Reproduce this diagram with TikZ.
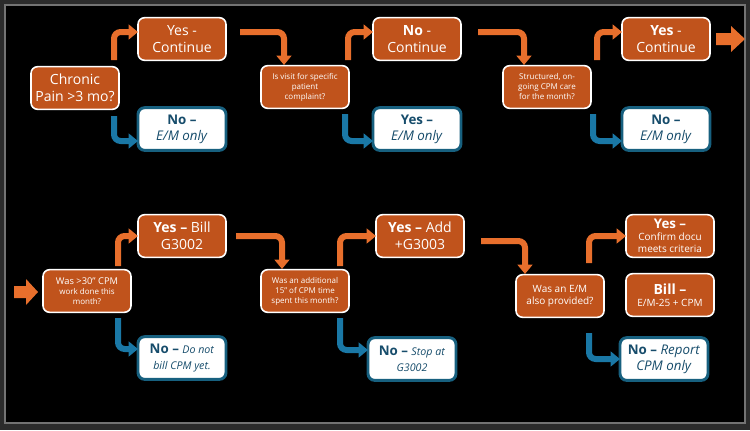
\documentclass[tikz,border=0pt]{standalone}
\usepackage{fontspec}
\setmainfont{Open Sans}
\usetikzlibrary{arrows.meta}
\definecolor{boxor}{HTML}{C0531C}
\definecolor{aror}{HTML}{E86F2C}
\definecolor{arbl}{HTML}{1A78A6}
\definecolor{nobd}{HTML}{17607F}
\definecolor{notx}{HTML}{164C6B}
\begin{document}
\begin{tikzpicture}[x=0.75pt,y=-0.75pt,
  base/.style={rounded corners=5pt,align=center,inner sep=0pt,minimum width=66pt,minimum height=32pt},
  org/.style={base,fill=boxor,draw=white,line width=1.2pt,text=white},
  no/.style={base,fill=white,draw=nobd,line width=2.2pt,text=notx,font=\fontsize{10}{12}\selectfont},
  big/.style={font=\fontsize{10.5}{12.5}\selectfont},
  sm/.style={font=\fontsize{6}{7.5}\selectfont},
  md/.style={font=\fontsize{7.5}{9}\selectfont},
  oa/.style={draw=aror,line width=4.5pt,rounded corners=5pt,-{Triangle[length=7pt,width=11pt]}},
  ba/.style={draw=arbl,line width=4.5pt,rounded corners=5pt,-{Triangle[length=7pt,width=11pt]}}]
\fill[black!83] (0,0) rectangle (750,430);
\fill[black] (5,5) rectangle (745,423);
\draw[black!55,line width=0.8pt] (5,5) rectangle (745,423);
% row 1
\node[org,big] (q1) at (75,88) {Chronic\\Pain >3 mo?};
\node[org,big] (y1) at (182,39) {Yes -\\Continue};
\node[no] (n1) at (182,129) {\textbf{No –}\\\textit{E/M only}};
\node[org,sm] (q2) at (305,87) {Is visit for specific\\patient\\complaint?};
\node[org,big] (y2) at (417,39) {\textbf{No} -\\Continue};
\node[no] (n2) at (417,129) {\textbf{Yes –}\\\textit{E/M only}};
\node[org,sm] (q3) at (547,87) {Structured, on-\\going CPM care\\for the month?};
\node[org,big] (y3) at (666,39) {\textbf{Yes} -\\Continue};
\node[no] (n3) at (666,129) {\textbf{No –}\\\textit{E/M only}};
\fill[aror] (716,33) -- (731,33) -- (731,26) -- (745,39) -- (731,52) -- (731,45) -- (716,45) -- cycle;
\coordinate (c1) at (114,60); \coordinate (c2) at (114,116);
\draw[oa] (c1) -- (114,32) -- (138,32);
\draw[ba] (c2) -- (114,141) -- (138,141);
\coordinate (c3) at (240,32);
\draw[oa] (c3) -- (284,32) -- (284,65);
\coordinate (c4) at (348,60); \coordinate (c5) at (345,114);
\draw[oa] (c4) -- (348,32) -- (373,32);
\draw[ba] (c5) -- (345,141) -- (373,141);
\coordinate (c6) at (478,32);
\draw[oa] (c6) -- (524,32) -- (524,65);
\coordinate (c7) at (597,60); \coordinate (c8) at (593,114);
\draw[oa] (c7) -- (597,32) -- (622,32);
\draw[ba] (c8) -- (593,141) -- (622,141);
% row 2
\fill[aror] (14,286) -- (26,286) -- (26,279) -- (38,292) -- (26,305) -- (26,298) -- (14,298) -- cycle;
\node[org,sm] (q4) at (87,291) {\fontsize{7}{8.5}\selectfont Was >30” CPM\\work done this\\month?};
\node[org,big] (y4) at (182,236) {\textbf{Yes –} Bill\\G3002};
\node[no] (n4) at (182,358) {\textbf{No –} \textit{\fontsize{8}{12}\selectfont Do not}\\\textit{\fontsize{8}{12}\selectfont bill CPM yet.}};
\node[org,sm] (q5) at (305,291) {Was an additional\\15” of CPM time\\spent this month?};
\node[org,big] (y5) at (420,236) {\textbf{Yes –} Add\\+G3003};
\node[no] (n5) at (412,359) {\textbf{No –} \textit{\fontsize{8}{12}\selectfont Stop at}\\\textit{\fontsize{8}{12}\selectfont G3002}};
\node[org,md] (q6) at (560,296) {Was an E/M\\also provided?};
\node[org,md] (y6) at (670,236) {{\fontsize{10}{12}\selectfont\textbf{Yes –}}\\Confirm docu\\meets criteria};
\node[org,md] (b6) at (670,295) {{\fontsize{10.5}{12}\selectfont\textbf{Bill –}}\\E/M-25 + CPM};
\node[no] (n6) at (664,359) {\textbf{No –} \textit{Report}\\\textit{CPM only}};
\coordinate (d1) at (118,266); \coordinate (d2) at (118,318);
\draw[oa] (d1) -- (118,236) -- (138,236);
\draw[ba] (d2) -- (118,349) -- (138,349);
\coordinate (d3) at (236,236);
\draw[oa] (d3) -- (282,236) -- (282,269);
\coordinate (d4) at (340,266); \coordinate (d5) at (340,318);
\draw[oa] (d4) -- (340,236) -- (376,236);
\draw[ba] (d5) -- (340,350) -- (368,350);
\coordinate (d6) at (481,241);
\draw[oa] (d6) -- (525,241) -- (525,274);
\coordinate (d7) at (589,263); \coordinate (d8) at (589,333);
\draw[oa] (d7) -- (589,236) -- (626,236);
\draw[ba] (d8) -- (589,359) -- (620,359);
\end{tikzpicture}
\end{document}
